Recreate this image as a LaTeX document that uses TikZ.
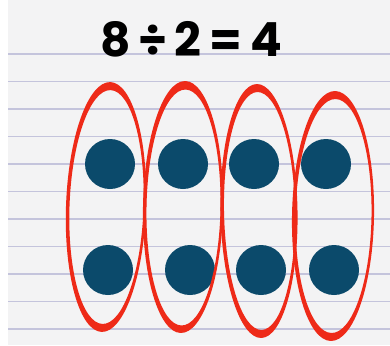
\documentclass[tikz,border=0pt]{standalone}
\usepackage{fontspec}
\setmainfont{Poppins}
\usetikzlibrary{positioning}

\definecolor{paper}{RGB}{243,243,244}
\definecolor{ruling}{RGB}{196,196,220}
\definecolor{dotblue}{RGB}{11,74,107}
\definecolor{loopred}{RGB}{238,42,24}

\begin{document}
\begin{tikzpicture}[
    x=1pt, y=-1pt,
    title/.style={font=\bfseries\fontsize{47}{47}\selectfont, inner sep=0pt},
    counter/.style={circle, fill=dotblue, minimum size=50pt, inner sep=0pt},
    ruled/.style={draw=ruling, line width=1.4pt},
    groupring/.style={fill=loopred, even odd rule}
]
    % ========== PAPER ==========
    \useasboundingbox (0,0) rectangle (390,345);
    \fill[white] (0,0) rectangle (390,345);
    \fill[paper] (8,0) rectangle (390,345);

    % ruled lines
    \foreach \ly in {54,81.5,109,136.5,164,191.5,219,246.5,274,301.5,329}
        \draw[ruled] (8,\ly) -- (390,\ly);

    % ========== TITLE ==========
    \node[title] (sum) at (191,39) {8\,÷\,2\,=\,4};

    % ========== COUNTERS ==========
    \node[counter] (top1) at (110,164) {};
    \node[counter] (top2) at (183,164) {};
    \node[counter] (top3) at (254,164) {};
    \node[counter] (top4) at (326,164) {};
    \node[counter] (bot1) at (108,270) {};
    \node[counter] (bot2) at (190,270) {};
    \node[counter] (bot3) at (261,270) {};
    \node[counter] (bot4) at (334,270) {};

    % ========== GROUP RINGS ==========
    % outer and inner ellipse: thick at top and bottom, thin at the sides
    \fill[groupring, rotate around={-2:(106,207)}]
        (106,207) ellipse (40 and 125) (106.5,207) ellipse (37 and 117);
    \fill[groupring, rotate around={-1:(183,207)}]
        (183,207) ellipse (40 and 126) (183.5,207.5) ellipse (37 and 118);
    \fill[groupring, rotate around={1:(259,211)}]
        (259,211) ellipse (38.5 and 127) (259.5,211) ellipse (35.5 and 119);
    \fill[groupring, rotate around={-1:(333,216)}]
        (333,216) ellipse (41 and 125) (333.5,216) ellipse (38 and 117);
\end{tikzpicture}
\end{document}
